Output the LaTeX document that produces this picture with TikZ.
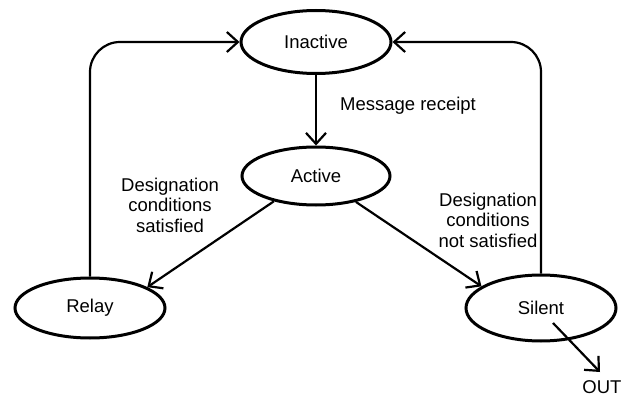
\documentclass[tikz,border=0pt]{standalone}
\usepackage{fontspec}
\setmainfont{Liberation Sans}
\usetikzlibrary{shapes.geometric,arrows.meta}
\begin{document}
\begin{tikzpicture}[x=1pt,y=-1pt,
  state/.style={draw, ellipse, line width=3pt, minimum width=150pt, minimum height=60pt, inner sep=0pt, font=\fontsize{18.5}{20.5}\selectfont},
  lbl/.style={align=center, font=\fontsize{18.5}{20.5}\selectfont},
  conn/.style={line width=2.2pt, -{Straight Barb[length=11pt,width=20pt,line width=2.2pt]}}]
\useasboundingbox (0,0) rectangle (625,396);
\node[state, minimum height=63pt] (Inactive) at (316,42) {Inactive};
\node[state, minimum height=58pt, minimum width=148pt] (Active) at (316,176) {Active};
\node[state] (Relay) at (90,308) {Relay};
\node[state, minimum height=66pt] (Silent) at (541,308) {Silent};
\node[lbl] (msg) at (408,106) {Message receipt};
\node[lbl] (dcs) at (170,205) {Designation\\conditions\\satisfied};
\node[lbl] (dcns) at (488,220) {Designation\\conditions\\not satisfied};
\node[lbl] (out) at (602,387) {OUT};
\coordinate (outstart) at (553,323);
\coordinate (outend) at (600,372);
\draw[conn, rounded corners=30pt] (Relay.north) |- (Inactive.west);
\draw[conn, rounded corners=30pt] (Silent.north) |- (Inactive.east);
\draw[conn] (Inactive.south) -- (Active.north);
\draw[conn] (Active.211) -- (Relay.20);
\draw[conn] (Active.327) -- (Silent.160);
\draw[conn] (outstart) -- (outend);
\end{tikzpicture}
\end{document}
